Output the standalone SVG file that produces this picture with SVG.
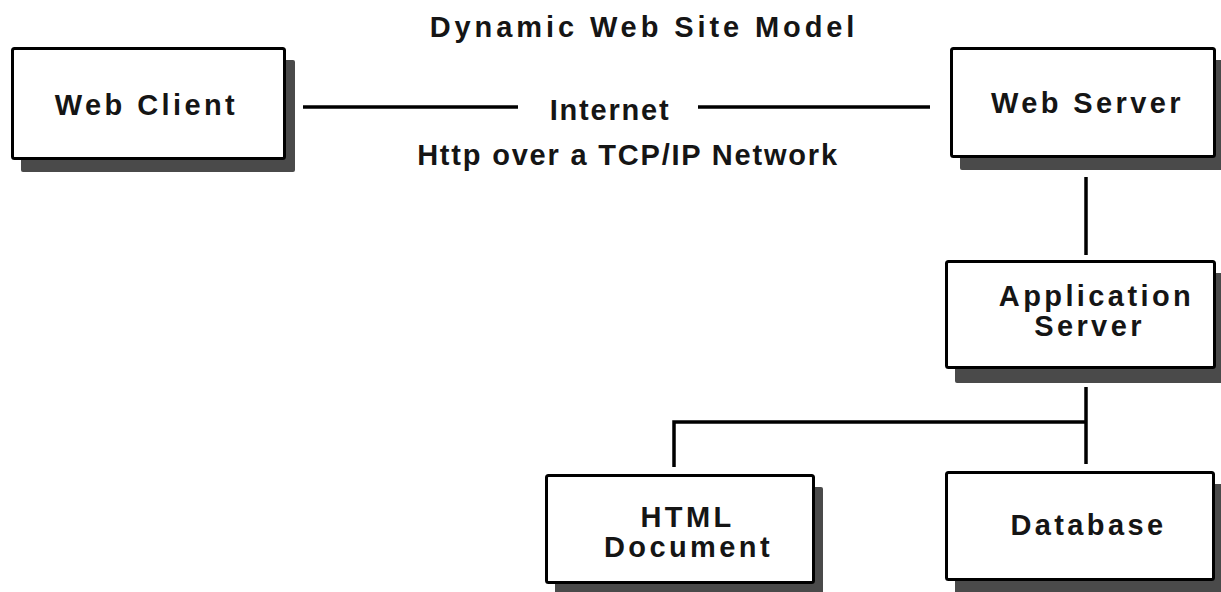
<svg xmlns="http://www.w3.org/2000/svg" width="1221" height="592" viewBox="0 0 1221 592">
<style>
.bg{fill:#ffffff}
.shadow{fill:#4a4a4a}
.box{fill:#ffffff;stroke:#000000;stroke-width:3}
.lbl{font-family:"Liberation Sans",Arial,sans-serif;font-weight:bold;font-size:29px;fill:#151515;text-anchor:middle;letter-spacing:3.4px}
.title{font-family:"Liberation Sans",Arial,sans-serif;font-weight:bold;font-size:29px;fill:#151515;text-anchor:middle;letter-spacing:3.9px}
.link{font-family:"Liberation Sans",Arial,sans-serif;font-weight:bold;font-size:29px;fill:#151515;text-anchor:middle;letter-spacing:1.8px}
.conn{fill:none;stroke:#000000;stroke-width:3.5}
</style>
<rect class="bg" x="0" y="0" width="1221" height="592"/>
<text class="title" x="644" y="37">Dynamic Web Site Model</text>

<g id="connectors">
<line class="conn" x1="303" y1="107" x2="518" y2="107"/>
<line class="conn" x1="698" y1="107" x2="930" y2="107"/>
<line class="conn" x1="1086" y1="177" x2="1086" y2="255"/>
<line class="conn" x1="1086" y1="387" x2="1086" y2="464"/>
<polyline class="conn" points="674,467 674,422 1086,422"/>
<text class="link" x="610" y="120">Internet</text>
<text class="link" x="628" y="165">Http over a TCP/IP Network</text>
</g>

<g id="web-client">
<rect class="shadow" x="21" y="60" width="274" height="112" rx="2"/>
<rect class="box" x="12.5" y="48.5" width="272" height="110" rx="2"/>
<text class="lbl" x="146.5" y="115">Web Client</text>
</g>

<g id="web-server">
<rect class="shadow" x="960" y="60" width="265" height="110" rx="2"/>
<rect class="box" x="951.5" y="48.5" width="263" height="108" rx="2"/>
<text class="lbl" x="1087.5" y="113">Web Server</text>
</g>

<g id="application-server">
<rect class="shadow" x="955" y="273" width="270" height="110" rx="2"/>
<rect class="box" x="946.5" y="261.5" width="268" height="106" rx="2"/>
<text class="lbl" x="1096.5" y="306">Application</text>
<text class="lbl" x="1089.5" y="336">Server</text>
</g>

<g id="html-document">
<rect class="shadow" x="555" y="487" width="268" height="110" rx="2"/>
<rect class="box" x="546.5" y="475.5" width="267" height="107" rx="2"/>
<text class="lbl" x="687.5" y="527">HTML</text>
<text class="lbl" x="688.5" y="557">Document</text>
</g>

<g id="database">
<rect class="shadow" x="955" y="484" width="270" height="110" rx="2"/>
<rect class="box" x="946.5" y="472.5" width="267" height="107" rx="2"/>
<text class="lbl" x="1088.5" y="535">Database</text>
</g>
</svg>
